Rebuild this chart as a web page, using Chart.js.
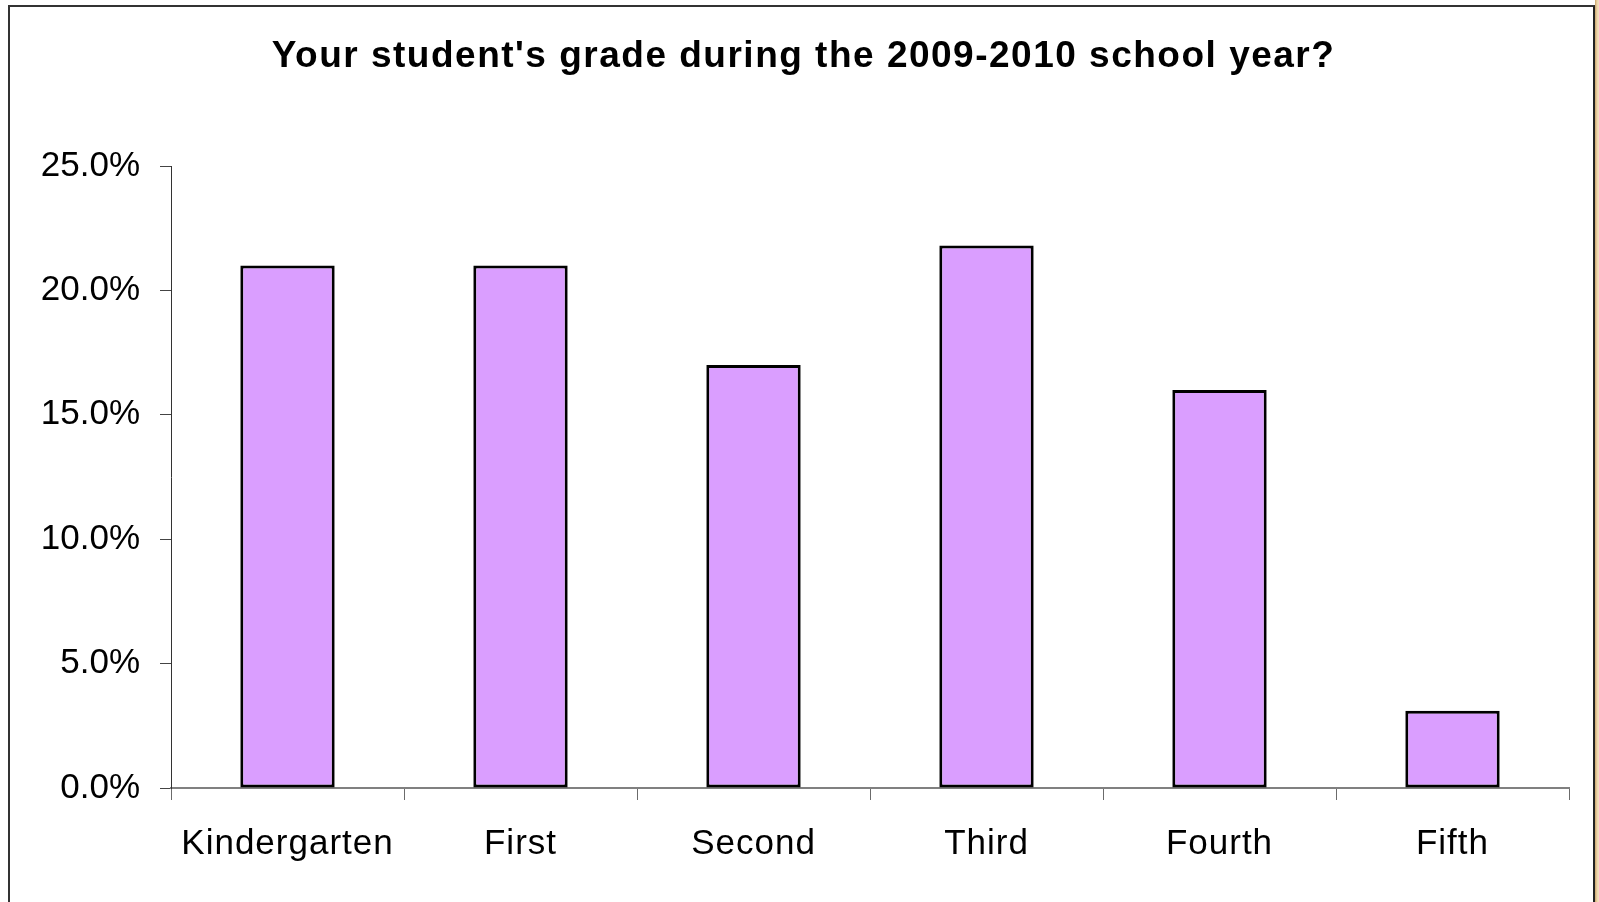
<!DOCTYPE html>
<html>
<head>
<meta charset="utf-8">
<script src="https://cdn.jsdelivr.net/npm/chart.js@4"></script>
<style>
  html, body { margin: 0; padding: 0; background: #fff; overflow: hidden; }
  #wrap { position: relative; width: 1599px; height: 902px; }
  #tan { position: absolute; left: 1595px; top: 0; width: 4px; height: 902px;
         background: linear-gradient(to right, #c9a46c, #ecd3a8 50%, #f3e2c4); }
  #frame { position: absolute; left: 8px; top: 5px; width: 1583px; height: 920px;
           border-left: 2px solid #333; border-top: 2px solid #333; border-right: 2px solid #222; }
  canvas { position: absolute; left: 0; top: 0; }
</style>
</head>
<body>
<div id="wrap">
  <div id="tan"></div>
  <div id="frame"></div>
  <canvas id="c" width="1599" height="902"></canvas>
</div>
<script>
const titleText = "Your student's grade during the 2009-2010 school year?";
const categories = ["Kindergarten", "First", "Second", "Third", "Fourth", "Fifth"];
const percentages = [21.0, 21.0, 17.0, 21.8, 16.0, 3.1];
const yTicks = [0, 5, 10, 15, 20, 25];

function wrapMethod(obj, name, fn) {
  if (!obj || obj['_wrapped_' + name]) return;
  const orig = obj[name].bind(obj);
  obj[name] = function (...args) {
    const ctx = this.ctx;
    ctx.save();
    fn(ctx);
    orig(...args);
    ctx.restore();
  };
  obj['_wrapped_' + name] = true;
}

const spacingPlugin = {
  id: 'textSpacing',
  beforeDraw(chart) {
    wrapMethod(chart.titleBlock, 'draw', ctx => { ctx.translate(19, 0); ctx.letterSpacing = '1.5px'; });
    wrapMethod(chart.scales.x, 'drawLabels', ctx => { ctx.letterSpacing = '1px'; });
  }
};

new Chart(document.getElementById('c'), {
  type: 'bar',
  data: {
    labels: categories,
    datasets: [{
      data: percentages,
      backgroundColor: '#DA9EFF',
      borderColor: '#000',
      borderWidth: 3,
      borderSkipped: false,
      barPercentage: 0.405,
      categoryPercentage: 1.0
    }]
  },
  options: {
    responsive: false,
    animation: false,
    devicePixelRatio: 1,
    layout: { padding: { left: 0, right: 30, top: 0, bottom: 0 } },
    plugins: {
      legend: { display: false },
      tooltip: { enabled: false },
      title: {
        display: true,
        text: titleText,
        color: '#000',
        font: { family: 'Liberation Sans, Arial, sans-serif', size: 37, weight: 'bold', lineHeight: 1.2 },
        padding: { top: 34.5, bottom: 87.1 }
      }
    },
    scales: {
      x: {
        grid: { display: true, drawOnChartArea: false, drawTicks: true, tickLength: 12, color: '#6b6b6b', lineWidth: 1, offset: true },
        border: { display: true, color: '#808080', width: 2 },
        ticks: { color: '#000', font: { family: 'Liberation Sans, Arial, sans-serif', size: 35 }, padding: 23, maxRotation: 0 },
        afterFit(scale) { scale.height = 114; }
      },
      y: {
        min: 0, max: 25,
        afterBuildTicks(scale) { scale.ticks = yTicks.map(v => ({ value: v })); },
        grid: { display: true, drawOnChartArea: false, drawTicks: true, tickLength: 11, color: '#444', lineWidth: 1 },
        border: { display: true, color: '#333', width: 1 },
        ticks: {
          color: '#000',
          font: { family: 'Liberation Sans, Arial, sans-serif', size: 35 },
          padding: 20,
          callback: v => v.toFixed(1) + '%'
        },
        afterFit(scale) { scale.width = 171; }
      }
    }
  },
  plugins: [spacingPlugin]
});
</script>
</body>
</html>
